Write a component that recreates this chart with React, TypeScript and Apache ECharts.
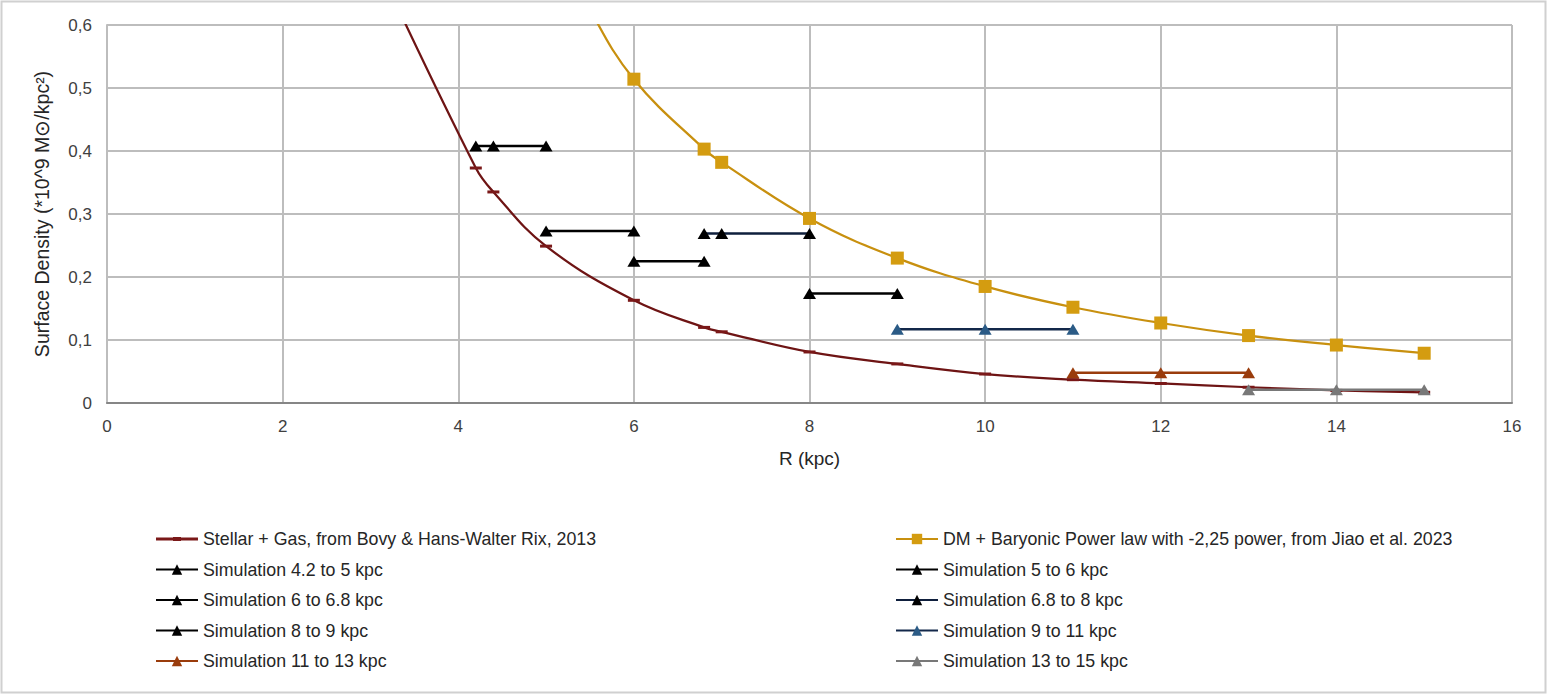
import React, { useEffect, useRef } from 'react'
import * as echarts from 'echarts'

// x values (kpc) and surface density (*10^9 Msun/kpc^2)
const stellarR = [3, 4.2, 4.4, 5, 6, 6.8, 7, 8, 9, 10, 11, 12, 13, 14, 15]
const stellarD = [0.72, 0.373, 0.335, 0.249, 0.163, 0.12, 0.113, 0.081, 0.062, 0.046, 0.037, 0.031, 0.025, 0.02, 0.017]

const dmR = [5, 5.5, 6, 6.8, 7, 8, 9, 10, 11, 12, 13, 14, 15]
const dmD = [0.77, 0.625, 0.514, 0.403, 0.382, 0.293, 0.23, 0.185, 0.152, 0.127, 0.107, 0.092, 0.079]

const sim1R = [4.2, 4.4, 5]
const sim1D = [0.408, 0.408, 0.408]
const sim2R = [5, 6]
const sim2D = [0.273, 0.273]
const sim3R = [6, 6.8]
const sim3D = [0.225, 0.225]
const sim4R = [6.8, 7, 8]
const sim4D = [0.269, 0.269, 0.269]
const sim5R = [8, 9]
const sim5D = [0.174, 0.174]
const sim6R = [9, 10, 11]
const sim6D = [0.117, 0.117, 0.117]
const sim7R = [11, 12, 13]
const sim7D = [0.048, 0.048, 0.048]
const sim8R = [13, 14, 15]
const sim8D = [0.021, 0.021, 0.021]

const names = [
  'Stellar + Gas, from Bovy & Hans-Walter Rix, 2013',
  'DM + Baryonic Power law with -2,25 power, from Jiao et al. 2023',
  'Simulation 4.2 to 5 kpc',
  'Simulation 5 to 6 kpc',
  'Simulation 6 to 6.8 kpc',
  'Simulation 6.8 to 8 kpc',
  'Simulation 8 to 9 kpc',
  'Simulation 9 to 11 kpc',
  'Simulation 11 to 13 kpc',
  'Simulation 13 to 15 kpc',
]

const zip = (xs: number[], ys: number[]) => xs.map((x, i) => [x, ys[i]])

const FONT = '"Liberation Sans", "Noto Sans", sans-serif'

// legend icon for the dash-marker series: a thick line, padded so it is not stretched to full height
const DASH_ICON = 'path://M0,0h0.01v0.01h-0.01z M0,5h42v3h-42z M17,4.5h8v4h-8z M0,13h0.01v0.01h-0.01z'

function simSeries(name: string, xs: number[], ys: number[], line: string, marker: string) {
  return {
    name,
    type: 'line',
    data: zip(xs, ys),
    symbol: 'triangle',
    symbolSize: [13, 11],
    lineStyle: { color: line, width: 2.5 },
    itemStyle: { color: marker },
    z: 5,
  }
}

export default function App() {
  const ref = useRef<HTMLDivElement>(null)
  useEffect(() => {
    document.body.style.margin = '0'
    const chart = echarts.init(ref.current as HTMLDivElement, undefined, { renderer: 'svg' })
    const legendText = { fontFamily: FONT, fontSize: 17.8, color: '#262626', lineHeight: 16 }
    chart.setOption({
      animation: false,
      backgroundColor: '#fff',
      textStyle: { fontFamily: FONT },
      graphic: [
        {
          type: 'rect',
          shape: { x: 1.5, y: 1.5, width: 1544, height: 691 },
          style: { fill: 'none', stroke: '#d0d0d0', lineWidth: 2 },
          silent: true,
        },
      ],
      grid: { left: 107, right: 35, top: 25, bottom: 291 },
      xAxis: {
        type: 'value',
        min: 0,
        max: 16,
        interval: 2,
        name: 'R (kpc)',
        nameLocation: 'middle',
        nameGap: 46,
        nameTextStyle: { fontFamily: FONT, fontSize: 19, color: '#262626' },
        axisLine: { lineStyle: { color: '#868686', width: 2 } },
        axisTick: { show: false },
        axisLabel: { fontFamily: FONT, fontSize: 17, color: '#404040', margin: 15 },
        splitLine: { lineStyle: { color: '#bdbdbd', width: 2 } },
      },
      yAxis: {
        type: 'value',
        min: 0,
        max: 0.6,
        interval: 0.1,
        name: 'Surface Density (*10^9 M\u2299/kpc\u00b2)',
        nameLocation: 'middle',
        nameGap: 55,
        nameTextStyle: { fontFamily: FONT, fontSize: 19.5, color: '#262626' },
        axisLine: { show: true, lineStyle: { color: '#bdbdbd', width: 2 } },
        axisTick: { show: false },
        axisLabel: {
          fontFamily: FONT,
          fontSize: 17,
          color: '#404040',
          margin: 15,
          formatter: (v: number) => (v === 0 ? '0' : v.toFixed(1).replace('.', ',')),
        },
        splitLine: { lineStyle: { color: '#bdbdbd', width: 2 } },
      },
      legend: [
        {
          left: 155,
          top: 530,
          padding: 0,
          orient: 'vertical',
          itemWidth: 42,
          itemHeight: 13,
          itemGap: 12.5,
          textStyle: legendText,
          data: [
            { name: names[0], icon: DASH_ICON },
            names[2],
            names[4],
            names[6],
            names[8],
          ],
        },
        {
          left: 895,
          top: 530,
          padding: 0,
          orient: 'vertical',
          itemWidth: 42,
          itemHeight: 13,
          itemGap: 12.5,
          textStyle: legendText,
          data: [names[1], names[3], names[5], names[7], names[9]],
        },
      ],
      series: [
        {
          name: names[0],
          type: 'line',
          data: zip(stellarR, stellarD),
          smooth: 0.4,
          symbol: 'rect',
          symbolSize: [12, 3],
          lineStyle: { color: '#6e1414', width: 2.25 },
          itemStyle: { color: '#7a1818' },
          z: 3,
        },
        {
          name: names[1],
          type: 'line',
          data: zip(dmR, dmD),
          smooth: 0.4,
          symbol: 'rect',
          symbolSize: 13,
          lineStyle: { color: '#c8900f', width: 2.25 },
          itemStyle: { color: '#d49c10' },
          z: 4,
        },
        simSeries(names[2], sim1R, sim1D, '#000000', '#000000'),
        simSeries(names[3], sim2R, sim2D, '#000000', '#000000'),
        simSeries(names[4], sim3R, sim3D, '#000000', '#000000'),
        simSeries(names[5], sim4R, sim4D, '#0f1f3d', '#000000'),
        simSeries(names[6], sim5R, sim5D, '#000000', '#000000'),
        simSeries(names[7], sim6R, sim6D, '#13284a', '#2b5b86'),
        simSeries(names[8], sim7R, sim7D, '#9a3c0c', '#9a3c0c'),
        simSeries(names[9], sim8R, sim8D, '#787878', '#787878'),
      ],
    })
    return () => {
      chart.dispose()
    }
  }, [])
  return <div ref={ref} style={{ width: 1547, height: 694 }} />
}
